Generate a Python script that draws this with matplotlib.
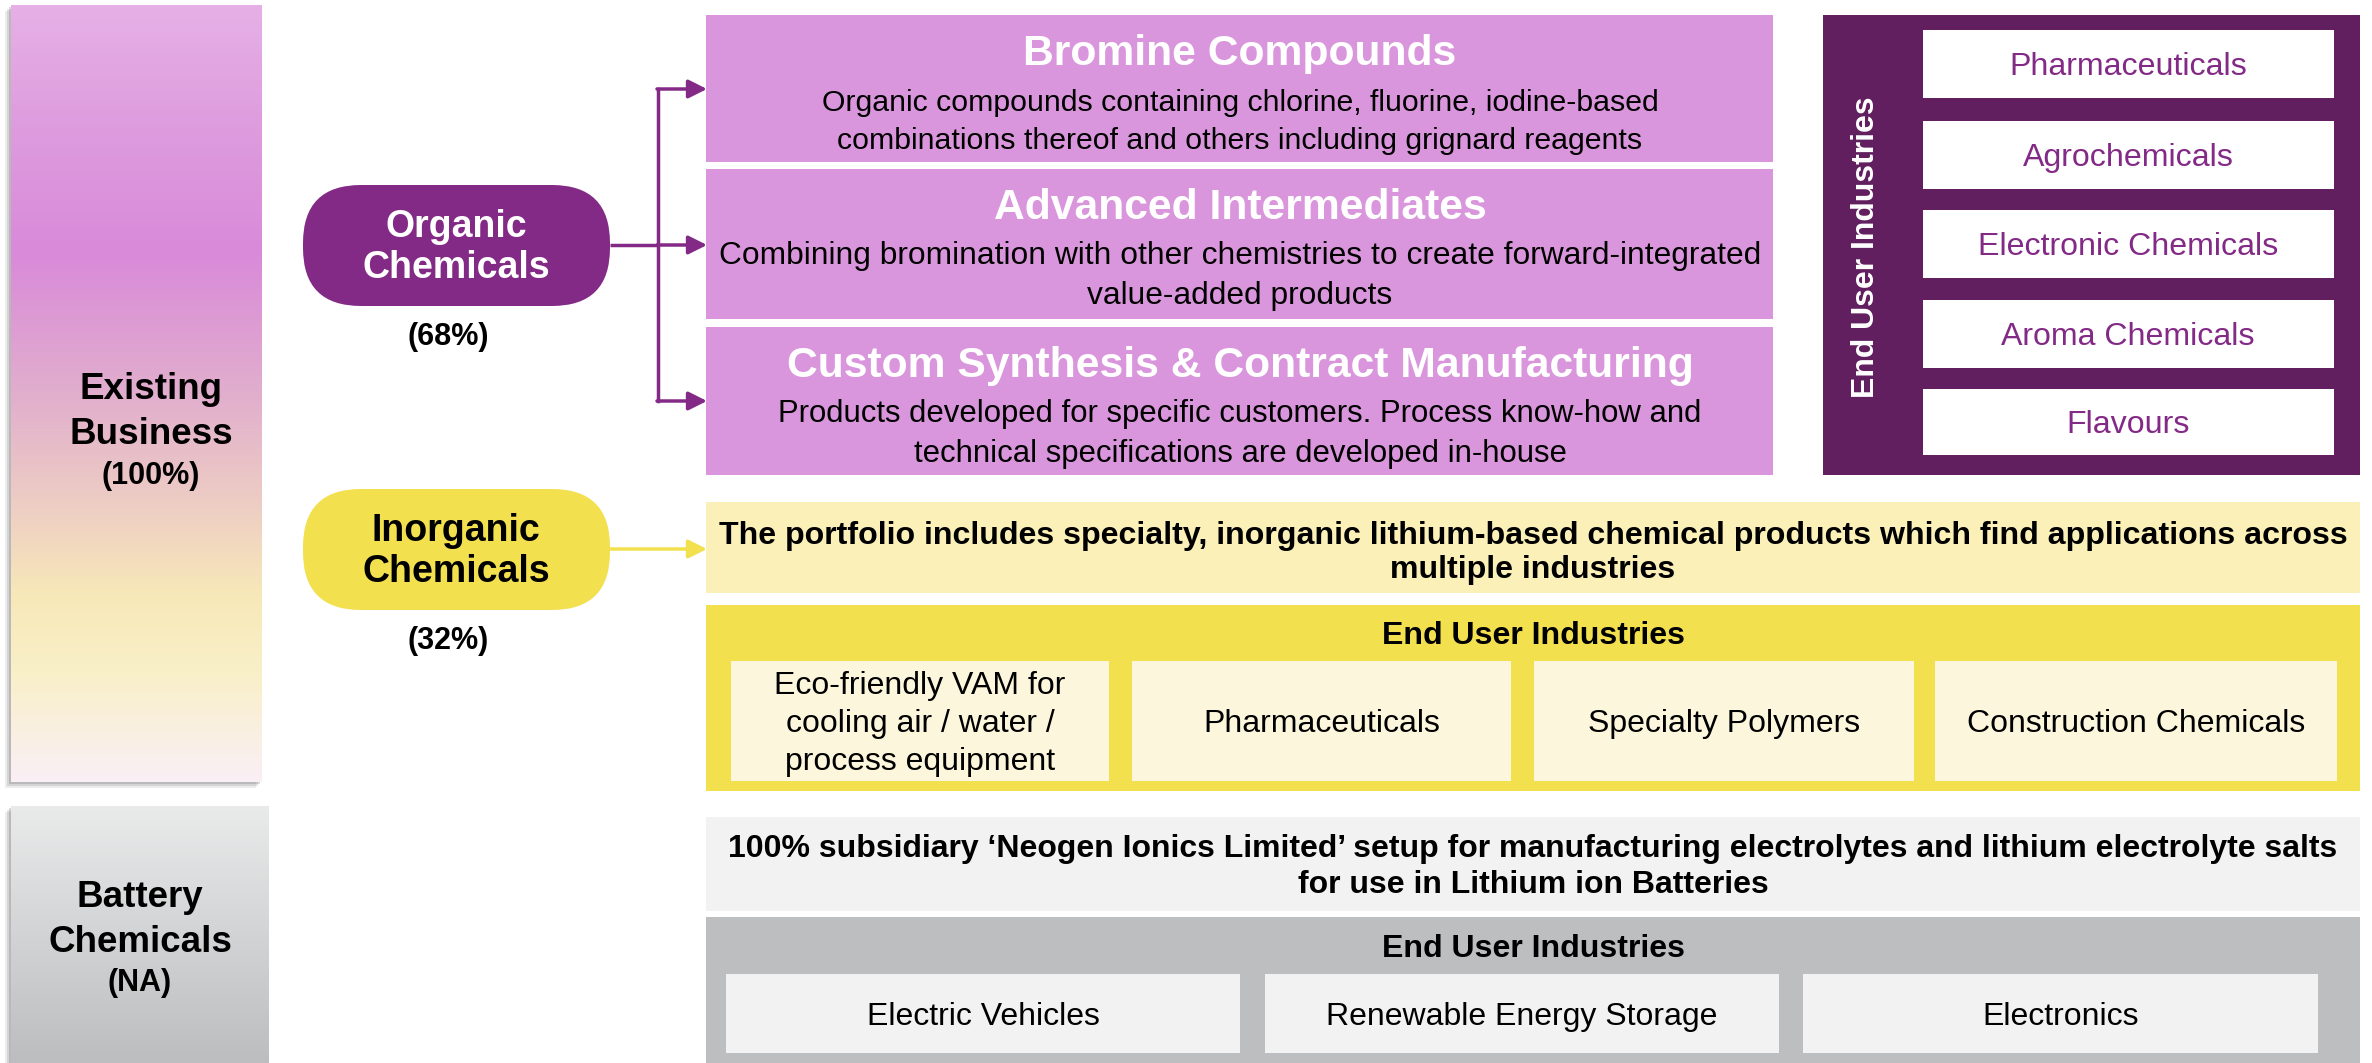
import numpy as np
import matplotlib.pyplot as plt
from matplotlib.patches import Rectangle, FancyBboxPatch

plt.rcParams['font.family'] = ['Liberation Sans', 'DejaVu Sans']

# text content
segments = ["Existing\nBusiness", "Battery\nChemicals"]
segment_share = ["(100%)", "(NA)"]
pills = ["Organic\nChemicals", "Inorganic\nChemicals"]
pill_share = ["(68%)", "(32%)"]
organic_titles = ["Bromine Compounds", "Advanced Intermediates",
                  "Custom Synthesis & Contract Manufacturing"]
organic_desc = ["Organic compounds containing chlorine, fluorine, iodine-based\ncombinations thereof and others including grignard reagents",
                "Combining bromination with other chemistries to create forward-integrated\nvalue-added products",
                "Products developed for specific customers. Process know-how and\ntechnical specifications are developed in-house"]
organic_users = ["Pharmaceuticals", "Agrochemicals", "Electronic Chemicals",
                 "Aroma Chemicals", "Flavours"]
inorganic_desc = "The portfolio includes specialty, inorganic lithium-based chemical products which find applications across\nmultiple industries"
inorganic_users = ["Eco-friendly VAM for\ncooling air / water /\nprocess equipment", "Pharmaceuticals",
                   "Specialty Polymers", "Construction Chemicals"]
battery_desc = "100% subsidiary \u2018Neogen Ionics Limited\u2019 setup for manufacturing electrolytes and lithium electrolyte salts\nfor use in Lithium ion Batteries"
battery_users = ["Electric Vehicles", "Renewable Energy Storage", "Electronics"]
user_header = "End User Industries"

PURPLE = '#832A86'
DARK = '#611F5F'
LILAC = '#DA96DC'
YELLOW = '#F2E04F'
PALE_Y = '#FAF0B8'
CREAM = '#FCF7DC'
LGREY = '#F2F2F2'
MGREY = '#BDBEC0'

fig = plt.figure(figsize=(23.72, 10.63), dpi=100)
ax = fig.add_axes([0, 0, 1, 1])
ax.set_xlim(0, 2372)
ax.set_ylim(1063, 0)
ax.axis('off')


def box(x0, y0, x1, y1, color, z=1):
    ax.add_patch(Rectangle((x0, y0), x1 - x0, y1 - y0, facecolor=color, edgecolor='none', zorder=z))


def gradient(x0, y0, x1, y1, stops, colors):
    t = np.linspace(0, 1, 300)
    cols = np.array([[int(c[i:i + 2], 16) / 255 for i in (1, 3, 5)] for c in colors])
    img = np.stack([np.interp(t, stops, cols[:, k]) for k in range(3)], axis=-1)
    img = np.repeat(img[:, None, :], 2, axis=1)
    ax.imshow(img, extent=(x0, x1, y1, y0), aspect='auto', zorder=2, interpolation='bilinear')


# left segment boxes with a soft shadow
for off, a in [(6, 0.10), (4, 0.15), (2, 0.2)]:
    box(11 - off, 5 + off, 262 - off, 782 + off, (0.3, 0.3, 0.3, a), z=1)
    box(11 - off, 806 + off, 269 - off, 1063, (0.3, 0.3, 0.3, a), z=1)
gradient(11, 5, 262, 782,
         [0, 0.15, 0.32, 0.5, 0.66, 0.76, 0.86, 1.0],
         ['#E6B0E6', '#DE9DDE', '#D98AD9', '#E1AECD', '#EFD1C3', '#F7E8B8', '#F9F0C8', '#FAEFF6'])
gradient(11, 806, 269, 1063, [0, 1], ['#E9EAEA', '#BCBDBF'])

ax.text(151, 412, segments[0], ha='center', va='center', fontsize=26.5, fontweight='bold',
        linespacing=1.4, zorder=3)
ax.text(151, 476, segment_share[0], ha='center', va='center', fontsize=22, fontweight='bold', zorder=3)
ax.text(140, 920, segments[1], ha='center', va='center', fontsize=26.5, fontweight='bold',
        linespacing=1.4, zorder=3)
ax.text(140, 983, segment_share[1], ha='center', va='center', fontsize=22, fontweight='bold', zorder=3)

# pills
for (y0, y1), col, tcol, lab, share in zip([(185, 306), (489, 610)], [PURPLE, YELLOW],
                                           ['white', 'black'], pills, pill_share):
    ax.add_patch(FancyBboxPatch((303, y0), 307, y1 - y0,
                                boxstyle='round,pad=0,rounding_size=58',
                                facecolor=col, edgecolor='none', zorder=3))
    ax.text(456, (y0 + y1) / 2 + 2, lab, ha='center', va='center', color=tcol, fontsize=27,
            fontweight='bold', linespacing=1.15, zorder=4)
    ax.text(448, y1 + 31, share, ha='center', va='center', fontsize=22, fontweight='bold')

# organic bracket arrows
ax.plot([610, 658], [245, 245], color=PURPLE, lw=2.5, solid_capstyle='butt')
ax.plot([658, 658], [89, 401], color=PURPLE, lw=2.5)
for yy in [89, 245, 401]:
    ax.annotate('', xy=(707, yy), xytext=(657, yy),
                arrowprops=dict(arrowstyle='-|>', color=PURPLE, lw=2.5, mutation_scale=28,
                                shrinkA=0, shrinkB=0))
ax.annotate('', xy=(707, 549), xytext=(610, 549),
            arrowprops=dict(arrowstyle='-|>', color=YELLOW, lw=2.5, mutation_scale=28,
                            shrinkA=0, shrinkB=0))

# organic product boxes
org_rows = [(15, 162), (169, 319), (327, 475)]
desc_sizes = [21.8, 22.9, 22.4]
for (y0, y1), title, desc, fs in zip(org_rows, organic_titles, organic_desc, desc_sizes):
    box(706, y0, 1773, y1, LILAC)
    ax.text(1240, y0 + 39, title, ha='center', va='center', color='white', fontsize=30.7,
            fontweight='bold', zorder=3)
    ax.text(1240, y0 + 107, desc, ha='center', va='center', color='black', fontsize=fs,
            linespacing=1.45, zorder=3)

# organic end users
box(1823, 15, 2360, 475, DARK)
ax.text(1866, 247, user_header, ha='center', va='center', rotation=90, color='white',
        fontsize=23, fontweight='bold', zorder=3)
user_rows = [(30, 98), (121, 189), (210, 278), (300, 368), (389, 455)]
for (y0, y1), lab in zip(user_rows, organic_users):
    box(1923, y0, 2334, y1, 'white', z=2)
    ax.text(2128, (y0 + y1) / 2 + 3, lab, ha='center', va='center', color=PURPLE, fontsize=23.1, zorder=3)

# inorganic
box(706, 502, 2360, 593, PALE_Y)
ax.text(1533, 553, inorganic_desc, ha='center', va='center', fontsize=23.1, fontweight='bold',
        linespacing=1.2, zorder=3)
box(706, 605, 2360, 791, YELLOW)
ax.text(1533, 636, user_header, ha='center', va='center', fontsize=23.1, fontweight='bold', zorder=3)
inorg_cols = [(731, 1109), (1132, 1511), (1534, 1914), (1935, 2337)]
for (x0, x1), lab in zip(inorg_cols, inorganic_users):
    box(x0, 661, x1, 781, CREAM, z=2)
    ax.text((x0 + x1) / 2, 724, lab, ha='center', va='center', fontsize=23,
            linespacing=1.35, zorder=3)

# battery
box(706, 817, 2360, 911, LGREY)
ax.text(1533, 867, battery_desc, ha='center', va='center', fontsize=23, fontweight='bold',
        linespacing=1.25, zorder=3)
box(706, 917, 2360, 1063, MGREY)
ax.text(1533, 949, user_header, ha='center', va='center', fontsize=23.1, fontweight='bold', zorder=3)
bat_cols = [(726, 1240), (1265, 1779), (1803, 2318)]
for (x0, x1), lab in zip(bat_cols, battery_users):
    box(x0, 974, x1, 1053, LGREY, z=2)
    ax.text((x0 + x1) / 2, 1017, lab, ha='center', va='center', fontsize=23, zorder=3)

fig.savefig('out.png', dpi=100)
